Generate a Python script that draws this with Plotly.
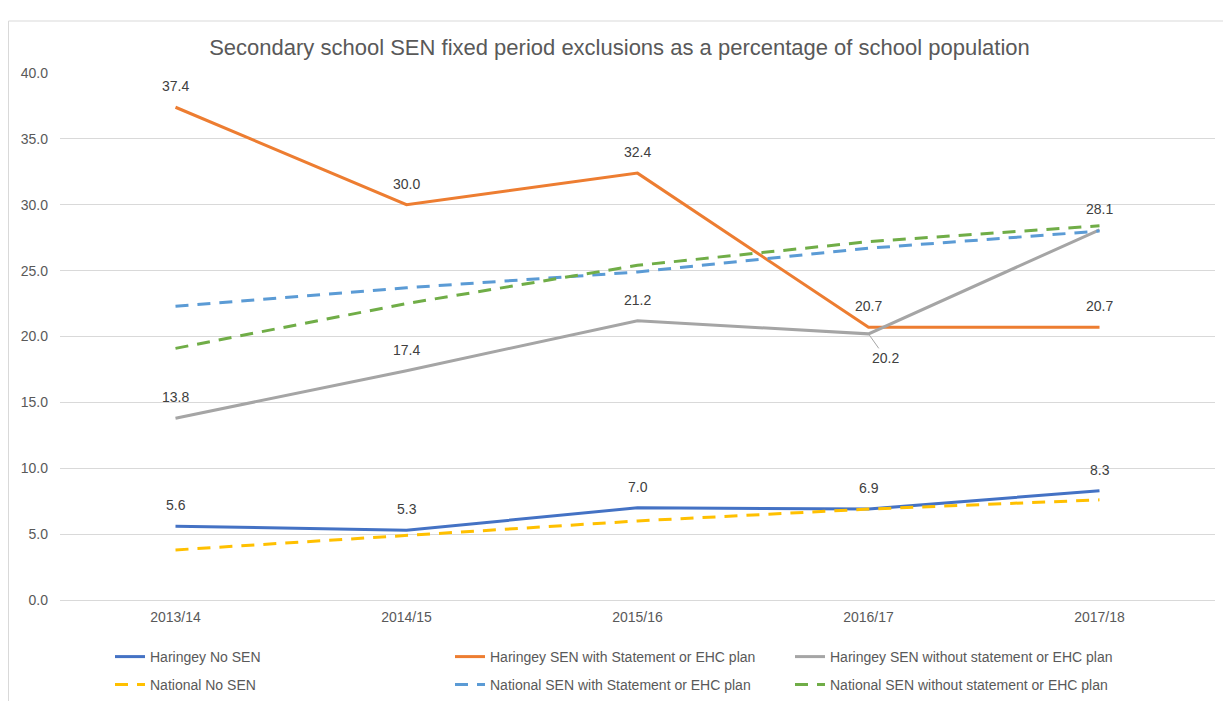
import plotly.graph_objects as go

categories = ["2013/14", "2014/15", "2015/16", "2016/17", "2017/18"]
haringey_no_sen = [5.6, 5.3, 7.0, 6.9, 8.3]
haringey_sen_with = [37.4, 30.0, 32.4, 20.7, 20.7]
haringey_sen_without = [13.8, 17.4, 21.2, 20.2, 28.1]
national_no_sen = [3.8, 4.9, 6.0, 6.9, 7.6]
national_sen_with = [22.3, 23.7, 24.9, 26.7, 28.0]
national_sen_without = [19.1, 22.5, 25.4, 27.2, 28.4]

names = [
    "Haringey No SEN",
    "Haringey SEN with Statement or EHC plan",
    "Haringey SEN without statement or EHC plan",
    "National No SEN",
    "National SEN with Statement or EHC plan",
    "National SEN without statement or EHC plan",
]
series = [haringey_no_sen, haringey_sen_with, haringey_sen_without,
          national_no_sen, national_sen_with, national_sen_without]
colors = ["#4472C4", "#ED7D31", "#A5A5A5", "#FFC000", "#5B9BD5", "#70AD47"]
dashes = ["solid", "solid", "solid", "13px,9px", "13px,9px", "13px,9px"]
legend_ids = ["legend", "legend", "legend", "legend2", "legend2", "legend2"]

FONT = "Liberation Sans"
# figure drawn inside the page's default 8px body margin
W, H = 1223, 693
L, R, T, B = 52, 16, 65, 101
PLOT_W = W - L - R
PLOT_H = H - T - B
PLOT_BOTTOM = H - B

fig = go.Figure()
for name, vals, col, dsh, lg in zip(names, series, colors, dashes, legend_ids):
    fig.add_trace(go.Scatter(
        x=categories, y=vals, name=name, mode="lines",
        line=dict(color=col, width=3, dash=dsh),
        hoverinfo="skip", legend=lg,
    ))

annotations = []
for vals in series[:3]:
    for c, v in zip(categories, vals):
        if vals is haringey_sen_without and c == "2016/17":
            annotations.append(dict(
                x=c, y=v, text=f"{v:.1f}", showarrow=True, arrowhead=0,
                arrowwidth=1, arrowcolor="#A5A5A5", ax=17, ay=24,
                font=dict(family=FONT, size=14, color="#404040"),
            ))
        else:
            annotations.append(dict(
                x=c, y=v, text=f"{v:.1f}", showarrow=False, yshift=21,
                font=dict(family=FONT, size=14, color="#404040"),
            ))

legend_common = dict(
    orientation="h", xanchor="left", yanchor="middle",
    entrywidth=295, entrywidthmode="pixels",
    font=dict(family=FONT, size=14, color="#595959"),
    bgcolor="rgba(0,0,0,0)",
)
leg_x = (102 - L) / PLOT_W

fig.update_layout(
    width=W, height=H,
    margin=dict(l=L, r=R, t=T, b=B, autoexpand=False),
    paper_bgcolor="white", plot_bgcolor="white",
    title=dict(
        text="Secondary school SEN fixed period exclusions as a percentage of school population",
        x=0.5, xanchor="center", y=0.943, yanchor="middle",
        font=dict(family=FONT, size=22, color="#595959"),
    ),
    xaxis=dict(
        range=[-0.5, 4.5],
        showgrid=False, showline=False, zeroline=False, ticks="",
        ticklabelstandoff=7,
        tickfont=dict(family=FONT, size=14, color="#595959"),
        fixedrange=True,
    ),
    yaxis=dict(
        range=[0, 40], dtick=5, tickformat=".1f",
        showgrid=True, gridcolor="#D9D9D9", gridwidth=1,
        zeroline=True, zerolinecolor="#D9D9D9", zerolinewidth=1,
        showline=False, ticks="", ticklabelstandoff=11,
        tickfont=dict(family=FONT, size=14, color="#595959"),
        fixedrange=True,
    ),
    legend=dict(x=leg_x, y=(PLOT_BOTTOM - 649) / PLOT_H, **legend_common),
    legend2=dict(x=leg_x, y=(PLOT_BOTTOM - 677) / PLOT_H, **legend_common),
    annotations=annotations,
    shapes=[dict(
        type="rect", xref="paper", yref="paper",
        x0=(0.5 - L) / PLOT_W, x1=(1220 - L) / PLOT_W,
        y0=(PLOT_BOTTOM - 720) / PLOT_H, y1=(PLOT_BOTTOM - 13) / PLOT_H,
        line=dict(color="#D9D9D9", width=1), fillcolor="rgba(0,0,0,0)",
        layer="below",
    )],
    showlegend=True,
)

fig.write_html("out.html")
